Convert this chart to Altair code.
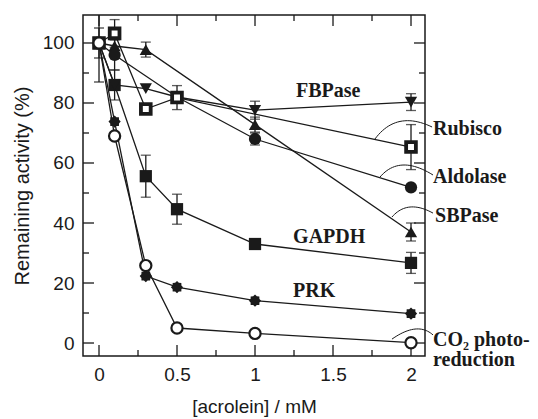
import numpy as np
import pandas as pd
import altair as alt

# ---------------- data ----------------
co2_x = [0, 0.1, 0.3, 0.5, 1, 2]
co2_y = [100, 69, 25.8, 5.0, 3.2, 0.1]

prk_x = [0, 0.1, 0.3, 0.5, 1, 2]
prk_y = [100, 73.8, 22.3, 18.6, 14.1, 9.8]

gapdh_x = [0, 0.1, 0.3, 0.5, 1, 2]
gapdh_y = [100, 86, 55.6, 44.6, 33, 26.7]

sbpase_x = [0, 0.1, 0.3, 1, 2]
sbpase_y = [100, 99, 97.8, 72.8, 37]

aldolase_x = [0, 0.1, 0.5, 1, 2]
aldolase_y = [100, 96, 82, 68, 51.9]

rubisco_x = [0, 0.1, 0.3, 0.5, 2]
rubisco_y = [100, 103.2, 78, 81.8, 65.3]

fbpase_x = [0, 0.1, 0.3, 0.5, 1, 2]
fbpase_y = [100, 86, 84.8, 82, 77.6, 80.3]

series_names = ["CO2", "PRK", "GAPDH", "SBPase", "Aldolase", "Rubisco", "FBPase"]
series_xs = [co2_x, prk_x, gapdh_x, sbpase_x, aldolase_x, rubisco_x, fbpase_x]
series_ys = [co2_y, prk_y, gapdh_y, sbpase_y, aldolase_y, rubisco_y, fbpase_y]

# error bars (series, x, y, +/-)
err_series = ["CO2", "GAPDH", "Rubisco", "Aldolase", "GAPDH", "SBPase", "Rubisco",
              "GAPDH", "GAPDH", "Aldolase", "SBPase", "FBPase", "FBPase", "Rubisco",
              "GAPDH", "SBPase"]
err_x = [0, 0, 0.1, 0.1, 0.1, 0.3, 0.5, 0.3, 0.5, 1, 1, 1, 2, 2, 2, 2]
err_y = [100, 100, 103.2, 96, 86, 97.8, 81.8, 55.6, 44.6, 68, 72.8, 77.6, 80.3, 65.3, 26.7, 37]
err_v = [13, 5, 4.6, 5, 5, 2.5, 4, 7, 5, 2, 2.5, 3, 2.8, 7.5, 3.5, 3]

# axis ticks
x_major = [0, 0.5, 1, 1.5, 2]
x_minor = [0.25, 0.75, 1.25, 1.75]
y_major = [0, 20, 40, 60, 80, 100]
y_minor = [10, 30, 50, 70, 90]

# labels
lab_text = ["FBPase", "GAPDH", "PRK", "Rubisco", "Aldolase", "SBPase", "CO₂ photo-", "reduction"]
lab_x = [1.263, 1.244, 1.244, 2.141, 2.141, 2.154, 2.141, 2.141]
lab_y = [82.1, 33.4, 15.4, 69.3, 53.2, 40.4, -1.0, -7.7]

# connector arcs: start, control, end (data units)
arc_names = ["Rubisco", "Aldolase", "SBPase", "CO2"]
arc_p0 = [(1.769, 68.0), (1.801, 55.3), (1.878, 42.0), (1.878, 1.3)]
arc_c = [(1.907, 77.7), (1.926, 63.0), (1.978, 48.0), (2.042, 7.3)]
arc_p2 = [(2.135, 72.0), (2.141, 56.0), (2.141, 43.3), (2.141, 2.7)]

# ---------------- tables ----------------
rows = []
for n, xs_, ys_ in zip(series_names, series_xs, series_ys):
    for i, (a, b) in enumerate(zip(xs_, ys_)):
        rows.append({"series": n, "x": a, "y": b, "i": i})
df = pd.DataFrame(rows)

df_err = pd.DataFrame({"series": err_series, "x": err_x,
                       "lo": [y - e for y, e in zip(err_y, err_v)],
                       "hi": [y + e for y, e in zip(err_y, err_v)]})
df_cap = pd.concat([pd.DataFrame({"x": df_err["x"], "y": df_err["lo"]}),
                    pd.DataFrame({"x": df_err["x"], "y": df_err["hi"]})])

arc_rows = []
for n, p0, c, p2 in zip(arc_names, arc_p0, arc_c, arc_p2):
    for k, t in enumerate(np.linspace(0, 1, 25)):
        bx = (1 - t) ** 2 * p0[0] + 2 * (1 - t) * t * c[0] + t ** 2 * p2[0]
        by = (1 - t) ** 2 * p0[1] + 2 * (1 - t) * t * c[1] + t ** 2 * p2[1]
        arc_rows.append({"arc": n, "x": bx, "y": by, "k": k})
df_arc = pd.DataFrame(arc_rows)

df_lab = pd.DataFrame({"text": lab_text, "x": lab_x, "y": lab_y})

# ---------------- chart ----------------
W, H = 342, 341
INK = "#1a1a1a"
xs = alt.Scale(domain=[-0.1026, 2.0897], nice=False, zero=False)
ys = alt.Scale(domain=[-4.33, 109.33], nice=False, zero=False)

xaxis = alt.Axis(values=x_major, format="~g", ticks=False, domain=False, grid=False,
                 labelFontSize=19, labelFont="Liberation Sans", labelColor=INK, labelPadding=9,
                 title="[acrolein] / mM", titleFont="Liberation Sans", titleFontSize=19,
                 titleFontWeight="normal", titleColor=INK, titlePadding=13)
yaxis = alt.Axis(values=y_major, ticks=False, domain=False, grid=False,
                 labelFontSize=19, labelFont="Liberation Sans", labelColor=INK, labelPadding=9,
                 title="Remaining activity (%)", titleFont="Liberation Sans", titleFontSize=20,
                 titleFontWeight="normal", titleColor=INK, titlePadding=10)


def X(field):
    return alt.X(field, scale=xs, axis=xaxis)


def Y(field):
    return alt.Y(field, scale=ys, axis=yaxis)


star = []
for k in range(16):
    a = np.pi / 8 * k
    r = 1.0 if k % 2 == 0 else 0.78
    star.append(f"{r*np.sin(a):.3f},{-r*np.cos(a):.3f}")
star_path = "M" + "L".join(star) + "Z"

filled_names = ["PRK", "GAPDH", "SBPase", "Aldolase", "FBPase"]
shape_scale = alt.Scale(domain=filled_names,
                        range=[star_path, "square", "triangle-up", "circle", "triangle-down"])
size_scale = alt.Scale(domain=filled_names, range=[150, 150, 150, 130, 150])

lines = alt.Chart(df).mark_line(color=INK, strokeWidth=1.3).encode(
    x=X("x:Q"), y=Y("y:Q"), detail="series:N", order="i:Q",
)

errs = alt.Chart(df_err).mark_rule(color=INK, strokeWidth=1.3, clip=True).encode(
    x=X("x:Q"), y=Y("lo:Q"), y2="hi:Q",
)
caps = alt.Chart(df_cap).mark_tick(color=INK, thickness=1.3, size=10, orient="horizontal", clip=True).encode(
    x=X("x:Q"), y=Y("y:Q"),
)

filled_pts = alt.Chart(df).transform_filter(
    alt.FieldOneOfPredicate(field="series", oneOf=filled_names)
).mark_point(filled=True, color=INK, opacity=1).encode(
    x=X("x:Q"), y=Y("y:Q"),
    shape=alt.Shape("series:N", scale=shape_scale, legend=None),
    size=alt.Size("series:N", scale=size_scale, legend=None),
)

open_sq = alt.Chart(df).transform_filter(alt.datum.series == "Rubisco").mark_point(
    shape="square", filled=False, fill="white", fillOpacity=1, stroke=INK, strokeWidth=3.8,
    size=95, opacity=1).encode(x=X("x:Q"), y=Y("y:Q"))

open_circ = alt.Chart(df).transform_filter(alt.datum.series == "CO2").mark_point(
    shape="circle", filled=False, fill="white", fillOpacity=1, stroke=INK, strokeWidth=2.2,
    size=125, opacity=1).encode(x=X("x:Q"), y=Y("y:Q"))

arcs = alt.Chart(df_arc).mark_line(color=INK, strokeWidth=1.0, clip=False).encode(
    x=X("x:Q"), y=Y("y:Q"), detail="arc:N", order="k:Q",
)

labels = alt.Chart(df_lab).mark_text(align="left", baseline="alphabetic", font="Liberation Serif",
                                     fontWeight="bold", fontSize=20, color=INK).encode(
    x=X("x:Q"), y=Y("y:Q"), text="text:N",
)


def tick_layer(vals, horizontal, pos, length):
    d = pd.DataFrame({"v": vals})
    if horizontal:  # ticks on x axis (top/bottom)
        return alt.Chart(d).mark_rule(color=INK, strokeWidth=1.3).encode(
            x=X("v:Q"), y=alt.value(pos), y2=alt.value(pos + length))
    return alt.Chart(d).mark_rule(color=INK, strokeWidth=1.3).encode(
        y=Y("v:Q"), x=alt.value(pos), x2=alt.value(pos + length))


ticks = [
    tick_layer(x_major, True, H, -11), tick_layer(x_minor, True, H, -6),
    tick_layer(x_major, True, 0, 11), tick_layer(x_minor, True, 0, 6),
    tick_layer(y_major, False, 0, 11), tick_layer(y_minor, False, 0, 6),
    tick_layer(y_major, False, W, -11), tick_layer(y_minor, False, W, -6),
]

chart = alt.layer(lines, *ticks, errs, caps, arcs, filled_pts, open_sq, open_circ, labels).properties(
    width=W, height=H,
    autosize=alt.AutoSizeParams(type="none"),
    padding={"left": 83, "top": 15, "right": 113, "bottom": 63},
    background="white",
).configure_view(stroke=INK, strokeWidth=1.5)

chart.save("out.html", embed_options={"renderer": "svg", "actions": False})
